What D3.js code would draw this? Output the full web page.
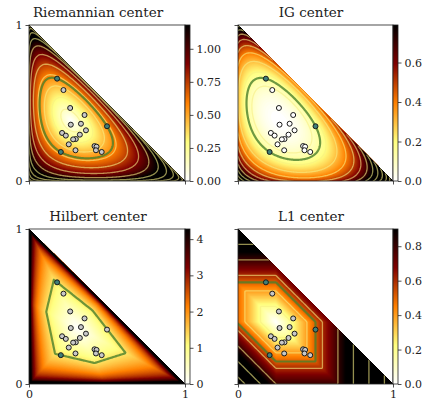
<!DOCTYPE html>
<html>
<head>
<meta charset="utf-8">
<script src="https://cdn.jsdelivr.net/npm/d3@7"></script>
<style>
  body { margin: 0; background: #fff; }
  svg { display: block; }
  text { font-family: "DejaVu Serif", serif; fill: #222; }
</style>
</head>
<body>
<svg id="chart" width="435" height="408"></svg>
<script>
// samples on the 2-simplex, first two coordinates
const sampleX = [0.180, 0.221, 0.264, 0.356, 0.268, 0.333, 0.500, 0.365, 0.212, 0.236,
                 0.326, 0.300, 0.283, 0.255, 0.204, 0.298, 0.420, 0.433, 0.429, 0.466];
const sampleY = [0.656, 0.583, 0.468, 0.423, 0.361, 0.367, 0.351, 0.325, 0.308, 0.291,
                 0.297, 0.269, 0.267, 0.235, 0.186, 0.197, 0.224, 0.220, 0.197, 0.186];

const titles = ['Riemannian center', 'IG center', 'Hilbert center', 'L1 center'];
const colorMax = [1.18, 0.79, 4.28, 0.9];
const cbarTicks = [[0, 0.25, 0.5, 0.75, 1.0], [0, 0.2, 0.4, 0.6], [0, 1, 2, 3, 4], [0, 0.2, 0.4, 0.6, 0.8]];
const cbarFormat = ['.2f', '.1f', 'd', '.1f'];
const levels = [
  [0.15, 0.3, 0.45, 0.6, 0.75, 0.9, 1.05, 1.2, 1.35, 1.5, 1.65, 1.8],
  [0.1, 0.2, 0.3, 0.4, 0.5, 0.6, 0.7, 0.8, 0.9, 1.0, 1.1, 1.2],
  [],
  [0.2, 0.4, 0.6, 0.8, 1.0, 1.2, 1.4, 1.6]
];
const axisTicks = [0, 1];
const pointFill = ['#c8c8c8', '#ffffff', '#c8c8c8', '#c8c8c8'];

// afmhot_r
const cmapStops = [0, 0.25, 0.5, 0.75, 1];
const cmapColors = ['#ffffff', '#ffff80', '#ff8000', '#800000', '#000000'];

function simplex(x, y) {
  x = Math.max(x, 0); y = Math.max(y, 0);
  if (x + y > 1) { const s = x + y; x /= s; y /= s; }
  return [x, y, Math.max(0, 1 - x - y)];
}
const samples = sampleX.map((x, i) => simplex(x, sampleY[i]));

// distance from point p to center c
const metrics = [
  (p, c) => 2 * Math.acos(Math.min(1, Math.sqrt(p[0] * c[0]) + Math.sqrt(p[1] * c[1]) + Math.sqrt(p[2] * c[2]))),
  (p, c) => { let s = 0; for (let i = 0; i < 3; i++) if (p[i] > 0) s += p[i] * Math.log(p[i] / c[i]); return s; },
  (p, c) => {
    let hi = -Infinity, lo = Infinity;
    for (let i = 0; i < 3; i++) { const r = Math.max(p[i], 1e-7) / c[i]; hi = Math.max(hi, r); lo = Math.min(lo, r); }
    return Math.log(hi / lo);
  },
  (p, c) => Math.abs(p[0] - c[0]) + Math.abs(p[1] - c[1]) + Math.abs(p[2] - c[2])
];

// center of the smallest enclosing ball
function minimax(dist) {
  const cost = (cx, cy) => { const c = [cx, cy, 1 - cx - cy]; return d3.max(samples, p => dist(p, c)); };
  let best = [1 / 3, 1 / 3], bestCost = Infinity;
  const search = (x0, x1, y0, y1, h) => {
    for (let cx = x0; cx <= x1; cx += h) {
      for (let cy = y0; cy <= y1; cy += h) {
        if (cx <= 0 || cy <= 0 || cx + cy >= 1) continue;
        const v = cost(cx, cy);
        if (v < bestCost - 1e-12) { bestCost = v; best = [cx, cy]; }
      }
    }
  };
  search(0.01, 0.98, 0.01, 0.98, 0.005);
  for (const h of [0.001, 0.0002]) {
    const [bx, by] = best;
    search(bx - 5 * h, bx + 5 * h, by - 5 * h, by + 5 * h, h);
  }
  return best;
}

const svg = d3.select('svg#chart');
const defs = svg.append('defs');
const cols = [[29, 185], [238, 393]];
const rows = [[25, 181], [229, 384]];
const titleX = [98, 311];
const titleY = [16.5, 220.5];
const cbarWidth = 5;

titles.forEach((title, k) => {
  const col = k % 2, row = Math.floor(k / 2);
  const [x0, x1] = cols[col], [y0, y1] = rows[row];
  const xScale = d3.scaleLinear().domain([0, 1]).range([x0, x1]);
  const yScale = d3.scaleLinear().domain([0, 1]).range([y1, y0]);
  const vmax = colorMax[k];
  const color = d3.scaleLinear().domain(cmapStops.map(s => s * vmax)).range(cmapColors).clamp(true);
  const dist = metrics[k];
  const center = minimax(dist);
  const cVec = [center[0], center[1], 1 - center[0] - center[1]];
  const radius = d3.max(samples, p => dist(p, cVec));

  // field on a grid that runs a little past the axes
  const N = 166, pad = 3 / 160, cell = (1 + 2 * pad) / N;
  const field = new Float64Array(N * N);
  for (let j = 0; j < N; j++) {
    for (let i = 0; i < N; i++) {
      const v = dist(simplex(-pad + (i + 0.5) * cell, 1 + pad - (j + 0.5) * cell), cVec);
      field[j * N + i] = isFinite(v) ? Math.min(v, 50) : 50;
    }
  }
  const proj = d3.geoTransform({
    point(u, v) { this.stream.point(xScale(-pad + u * cell), yScale(1 + pad - v * cell)); }
  });
  const path = d3.geoPath(proj);

  const tri = `M${xScale(0)},${yScale(0)}L${xScale(1)},${yScale(0)}L${xScale(0)},${yScale(1)}Z`;
  defs.append('clipPath').attr('id', 'tri' + k).append('path').attr('d', tri);
  const g = svg.append('g').attr('clip-path', `url(#tri${k})`);
  g.append('path').attr('d', tri).attr('fill', color(0));

  const step = vmax / 100;
  const bands = d3.contours().size([N, N]).thresholds(d3.range(step, vmax + step / 2, step))(field);
  g.selectAll('path.band').data(bands).join('path')
    .attr('class', 'band')
    .attr('d', path)
    .attr('fill', d => color(d.value + step / 2));

  const lines = d3.contours().size([N, N]).thresholds(levels[k])(field);
  g.selectAll('path.level').data(lines).join('path')
    .attr('class', 'level')
    .attr('d', path)
    .attr('fill', 'none')
    .attr('stroke', '#f6ee84')
    .attr('stroke-opacity', 0.6)
    .attr('stroke-width', 1.3);

  const ball = d3.contours().size([N, N]).thresholds([radius])(field);
  g.selectAll('path.ball').data(ball).join('path')
    .attr('class', 'ball')
    .attr('d', path)
    .attr('fill', 'none')
    .attr('stroke', '#4a7f2a')
    .attr('stroke-opacity', 0.8)
    .attr('stroke-width', 2.2);

  svg.append('g').selectAll('circle').data(samples).join('circle')
    .attr('cx', p => xScale(p[0]))
    .attr('cy', p => yScale(p[1]))
    .attr('r', 2.5)
    .attr('fill', p => dist(p, cVec) > radius * 0.985 ? '#3f7f78' : pointFill[k])
    .attr('stroke', '#1a1a1a')
    .attr('stroke-width', 1);

  // frame and axes
  svg.append('rect')
    .attr('x', x0).attr('y', y0).attr('width', x1 - x0).attr('height', y1 - y0)
    .attr('fill', 'none').attr('stroke', '#222').attr('stroke-width', 0.8);
  const yAxis = svg.append('g').attr('transform', `translate(${x0},0)`)
    .call(d3.axisLeft(yScale).tickValues(axisTicks).tickSize(3.5).tickPadding(3)
      .tickFormat(col === 0 ? d3.format('d') : () => ''));
  const xAxis = svg.append('g').attr('transform', `translate(0,${y1})`)
    .call(d3.axisBottom(xScale).tickValues(axisTicks).tickSize(3.5).tickPadding(3)
      .tickFormat(row === 1 ? d3.format('d') : () => ''));

  // colorbar
  const gradId = 'grad' + k;
  const grad = defs.append('linearGradient').attr('id', gradId)
    .attr('x1', 0).attr('y1', 1).attr('x2', 0).attr('y2', 0);
  grad.selectAll('stop').data(cmapStops).join('stop')
    .attr('offset', s => s)
    .attr('stop-color', (s, i) => cmapColors[i]);
  const cScale = d3.scaleLinear().domain([0, vmax]).range([y1, y0]);
  svg.append('rect')
    .attr('x', x1).attr('y', y0).attr('width', cbarWidth).attr('height', y1 - y0)
    .attr('fill', `url(#${gradId})`).attr('stroke', '#222').attr('stroke-width', 0.8);
  const cAxis = svg.append('g').attr('transform', `translate(${x1 + cbarWidth},0)`)
    .call(d3.axisRight(cScale).tickValues(cbarTicks[k]).tickSize(3.5).tickPadding(3)
      .tickFormat(d3.format(cbarFormat[k])));

  [yAxis, xAxis, cAxis].forEach(a => {
    a.select('.domain').remove();
    a.selectAll('line').attr('stroke', '#222').attr('stroke-width', 0.8);
    a.selectAll('text').attr('font-size', 11).attr('font-family', '"DejaVu Serif", serif').attr('fill', '#222');
  });

  svg.append('text')
    .attr('x', titleX[col]).attr('y', titleY[row])
    .attr('text-anchor', 'middle')
    .attr('font-size', 13.5)
    .text(title);
});
</script>
</body>
</html>
